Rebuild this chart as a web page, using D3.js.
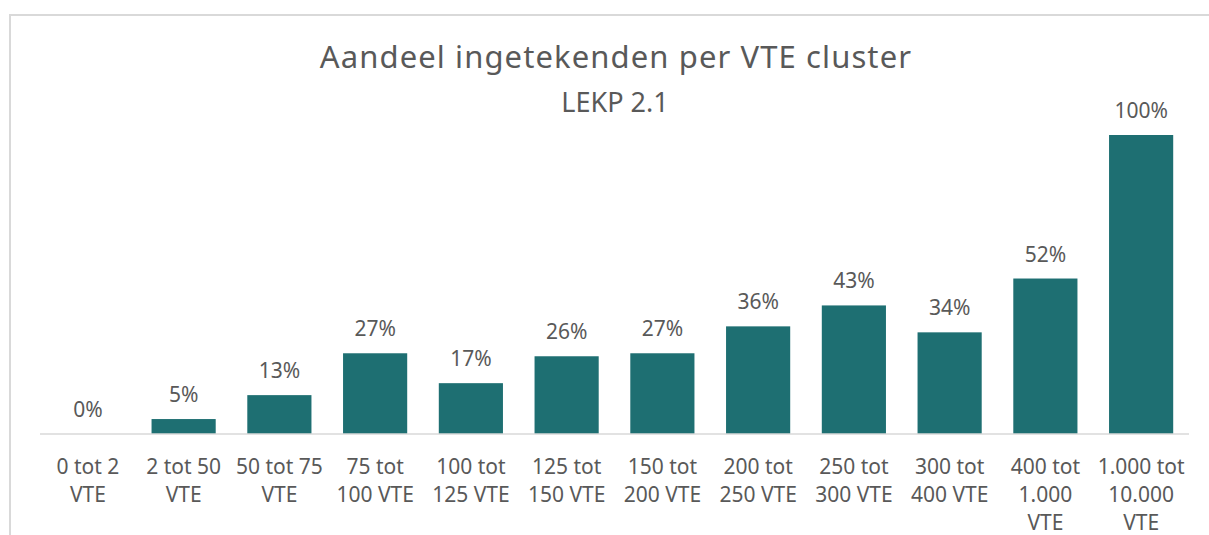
<!DOCTYPE html>
<html>
<head>
<meta charset="utf-8">
<script src="https://cdn.jsdelivr.net/npm/d3@7"></script>
<style>
    body { margin: 0; background: #fff; }
    svg { display: block; }
    text { font-family: "Noto Sans", "Open Sans", sans-serif; fill: #595959; }
</style>
</head>
<body>
<svg width="1209" height="535"></svg>
<script>
var categories = [
    "0 tot 2|VTE", "2 tot 50|VTE", "50 tot 75|VTE", "75 tot|100 VTE",
    "100 tot|125 VTE", "125 tot|150 VTE", "150 tot|200 VTE", "200 tot|250 VTE",
    "250 tot|300 VTE", "300 tot|400 VTE", "400 tot|1.000|VTE", "1.000 tot|10.000|VTE"
];
var shares = [0, 5, 13, 27, 17, 26, 27, 36, 43, 34, 52, 100];
var title = "Aandeel ingetekenden per VTE cluster";
var subtitle = "LEKP 2.1";

(function () {
    var svg = d3.select("svg"),
        margin = {top: 135, right: 20, bottom: 101, left: 40},
        width = 1189 - margin.left,
        height = 434 - margin.top;

    // chart frame
    svg.append("path")
        .attr("d", "M10,536 V15 H1220")
        .attr("fill", "none")
        .attr("stroke", "#d9d9d9")
        .attr("stroke-width", 2);

    var g = svg.append("g").attr("transform", "translate(" + margin.left + "," + margin.top + ")");

    var x = d3.scaleBand().domain(categories).range([0, width]).paddingInner(0.33).paddingOuter(0.165),
        y = d3.scaleLinear().domain([0, 100]).range([height, 0]);

    g.selectAll(".bar")
        .data(shares)
        .enter().append("rect")
        .attr("class", "bar")
        .attr("x", function (d, i) { return x(categories[i]); })
        .attr("y", function (d) { return y(d); })
        .attr("width", x.bandwidth())
        .attr("height", function (d) { return height - y(d); })
        .attr("fill", "#1e6f72");

    g.selectAll(".val")
        .data(shares)
        .enter().append("text")
        .attr("class", "val")
        .attr("x", function (d, i) { return x(categories[i]) + x.bandwidth() / 2; })
        .attr("y", function (d) { return y(d) - 17; })
        .attr("text-anchor", "middle")
        .style("font-size", "21px")
        .text(function (d) { return d + "%"; });

    // baseline
    g.append("line")
        .attr("x1", 0).attr("x2", width)
        .attr("y1", height).attr("y2", height)
        .attr("stroke", "#d9d9d9")
        .attr("stroke-width", 1.5);

    var lab = g.selectAll(".cat")
        .data(categories)
        .enter().append("text")
        .attr("class", "cat")
        .attr("text-anchor", "middle")
        .attr("transform", function (d) { return "translate(" + (x(d) + x.bandwidth() / 2) + "," + (height + 40) + ")"; })
        .style("font-size", "21px");

    lab.selectAll("tspan")
        .data(function (d) { return d.split("|"); })
        .enter().append("tspan")
        .attr("x", 0)
        .attr("y", function (d, i) { return i * 28; })
        .text(function (d) { return d; });

    svg.append("text")
        .attr("x", 616).attr("y", 68)
        .attr("text-anchor", "middle")
        .style("font-size", "31px")
        .style("letter-spacing", "1.1px")
        .text(title);

    svg.append("text")
        .attr("x", 615).attr("y", 112)
        .attr("text-anchor", "middle")
        .style("font-size", "27px")
        .text(subtitle);
})();
</script>
</body>
</html>
